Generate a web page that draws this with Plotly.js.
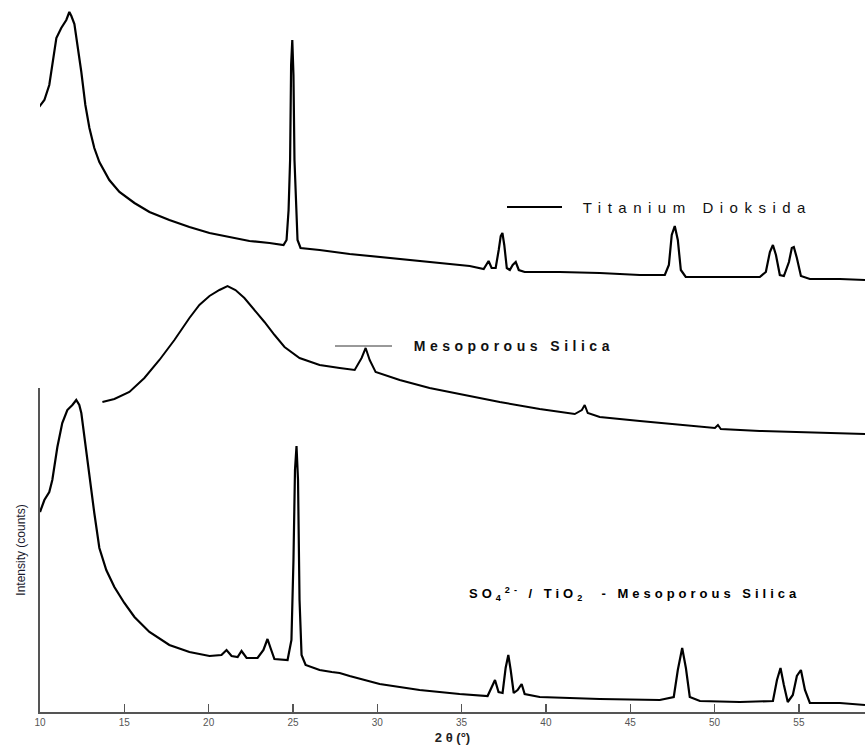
<!DOCTYPE html>
<html>
<head>
<meta charset="utf-8">
<script src="https://cdn.plot.ly/plotly-3.0.1.min.js"></script>
<style>
html,body{margin:0;padding:0;background:#fff;}
#chart{width:865px;height:749px;}
.annotation[data-index="0"] text{letter-spacing:6.5px;}
.annotation[data-index="1"] text{letter-spacing:4.5px;}
.annotation[data-index="2"] text{letter-spacing:4px;}
</style>
</head>
<body>
<div id="chart"></div>
<script>
// 2θ (degrees) and relative intensity (arbitrary counts, stacked offsets)
const tio2Theta = [9.9,10.26,10.55,10.73,10.97,11.26,11.56,11.74,11.86,12.04,12.21,12.45,12.69,12.93,13.22,13.52,14.11,14.71,15.6,16.49,17.67,18.86,20.05,21.23,22.42,23.61,24.44,24.62,24.74,24.83,24.89,24.96,25.03,25.09,25.18,25.27,25.45,26.58,28.36,30.73,33.1,35.48,36.31,36.49,36.6,36.78,37.02,37.2,37.32,37.42,37.53,37.68,37.86,38.03,38.21,38.39,38.74,40.82,43.19,45.57,47.05,47.29,47.46,47.64,47.82,48.0,48.29,50.31,52.68,53.04,53.28,53.46,53.64,53.87,54.11,54.41,54.58,54.7,54.88,55.12,55.65,57.43,58.92];
const tio2Int   = [604,612,627,647,674,684,692,700,696,688,670,640,607,584,564,550,532,520,509,500,492,485,479,475,471,469,467,472,502,552,647,672,637,552,507,472,464,462,458,454,450,446,443,448,451,444,444,462,476,479,467,444,442,447,450,442,440,440,439,437,437,447,477,486,472,442,435,435,435,440,460,467,457,437,436,450,464,465,454,436,433,433,432];

const silicaTheta = [13.7,14.41,15.3,16.19,17.08,17.97,18.86,19.45,20.05,20.64,21.12,21.59,22.12,22.72,23.31,23.91,24.5,25.39,26.58,27.77,28.66,29.07,29.31,29.55,29.9,31.33,33.1,34.88,37.26,39.63,41.71,42.13,42.3,42.48,43.19,45.57,47.94,50.02,50.2,50.37,52.68,55.06,57.43,58.92];
const silicaInt   = [310,313,320,334,352,372,394,407,416,422,426,422,414,402,390,377,365,354,347,344,342,354,364,352,340,332,324,318,310,303,298,302,307,299,295,291,287,284,287,283,281,280,279,278];

const compTheta = [10.0,10.26,10.55,10.73,11.03,11.32,11.62,11.92,12.15,12.33,12.45,12.63,12.93,13.22,13.52,13.93,14.41,15.0,15.6,16.49,17.67,18.86,20.05,20.76,21.06,21.36,21.72,21.95,22.25,22.9,23.25,23.49,23.67,23.9,24.68,24.91,25.03,25.12,25.21,25.3,25.39,25.51,25.75,26.58,27.3,27.77,28.36,30.14,32.51,34.88,36.54,36.78,36.98,37.19,37.43,37.61,37.77,37.91,38.09,38.32,38.56,38.74,39.63,43.19,46.75,47.58,47.82,48.08,48.3,48.53,49.13,51.5,53.46,53.7,53.91,54.11,54.34,54.64,54.88,55.12,55.36,55.65,57.43,58.92];
const compInt   = [200,212,220,232,265,289,302,307,312,307,299,275,232,199,164,142,125,109,95,80,67,60,56,57,62,56,55,61,54,54,62,73,64,53,52,72,152,242,266,232,112,57,47,42,40,39,36,28,22,18,16,24,32,20,19,44,57,42,19,22,28,18,15,13,12,15,42,64,44,15,11,10,11,32,44,27,10,17,36,42,22,9,9,7];

const xTicks = [10,15,20,25,30,35,40,45,50,55];
const seriesNames = ["Titanium Dioksida","Mesoporous Silica","SO<sub>4</sub><sup>2-</sup> / TiO<sub>2</sub>  - Mesoporous Silica"];

const line = {color:'#000', width:2.2};
const traces = [
  {x:tio2Theta, y:tio2Int, type:'scatter', mode:'lines', line:line, yaxis:'y2', name:seriesNames[0], hoverinfo:'x+y'},
  {x:silicaTheta, y:silicaInt, type:'scatter', mode:'lines', line:{color:'#000', width:2}, yaxis:'y2', name:seriesNames[1], hoverinfo:'x+y'},
  {x:compTheta, y:compInt, type:'scatter', mode:'lines', line:line, yaxis:'y', name:seriesNames[2], hoverinfo:'x+y'}
];

const W = 825, H = 712;
const px = v => (v-40)/W;
const py = v => (712-v)/H;

const layout = {
  width:865, height:749,
  margin:{l:40, r:0, t:0, b:37},
  paper_bgcolor:'#fff', plot_bgcolor:'rgba(0,0,0,0)',
  showlegend:false,
  font:{family:'"Liberation Sans", Arial, sans-serif', color:'#000'},
  xaxis:{
    range:[10,58.92], tickvals:xTicks, ticktext:xTicks.map(String),
    ticks:'inside', ticklen:8, tickwidth:1.5, tickcolor:'#555',
    showline:true, linecolor:'#555', linewidth:1.5,
    showgrid:false, zeroline:false,
    tickfont:{size:10, color:'#555'},
    title:{text:'<b>2 θ (°)</b>', font:{size:13, color:'#222'}, standoff:6},
    automargin:false, anchor:'y'
  },
  yaxis:{
    domain:[0, 324/712], range:[0,324],
    showline:true, linecolor:'#555', linewidth:2,
    showticklabels:false, ticks:'', showgrid:false, zeroline:false,
    title:{text:'Intensity (counts)', font:{size:12, color:'#1a1a2e'}, standoff:10},
    automargin:false
  },
  yaxis2:{
    domain:[0,1], range:[0,712], anchor:'x',
    showline:false, showticklabels:false, ticks:'', showgrid:false, zeroline:false
  },
  shapes:[
    {type:'line', xref:'paper', yref:'paper', x0:px(507), x1:px(562), y0:py(207), y1:py(207), line:{color:'#000', width:2}},
    {type:'line', xref:'paper', yref:'paper', x0:px(335), x1:px(392), y0:py(346), y1:py(346), line:{color:'#333', width:1}}
  ],
  annotations:[
    {text:seriesNames[0], xref:'paper', yref:'paper', x:px(697), y:py(207), xanchor:'center', yanchor:'middle', showarrow:false, font:{size:15, color:'#111'}},
    {text:seriesNames[1], xref:'paper', yref:'paper', x:px(514), y:py(346), xanchor:'center', yanchor:'middle', showarrow:false, font:{size:14, color:'#111', weight:'bold'}},
    {text:'<b>'+seriesNames[2]+'</b>', xref:'paper', yref:'paper', x:px(635), y:py(594), xanchor:'center', yanchor:'middle', showarrow:false, font:{size:13, color:'#000'}}
  ]
};

Plotly.newPlot('chart', traces, layout, {displayModeBar:false, staticPlot:true});
</script>
</body>
</html>
